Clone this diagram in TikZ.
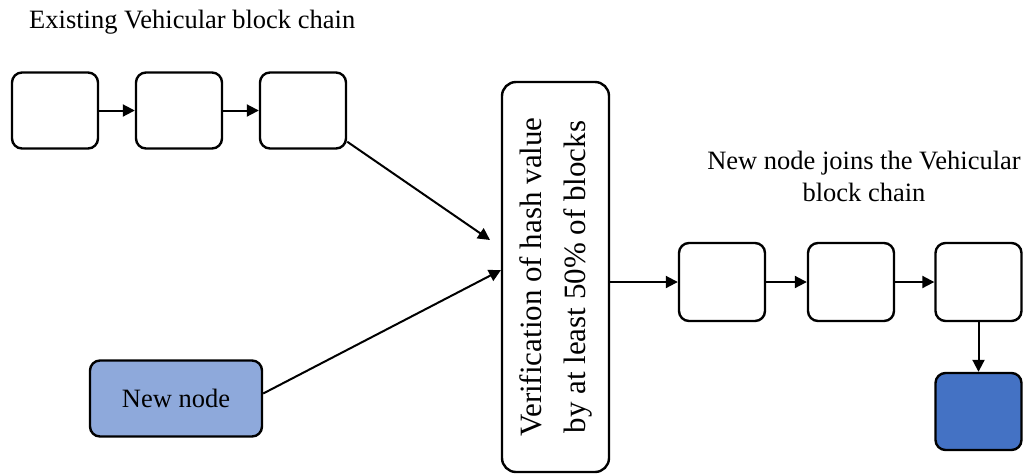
\documentclass[tikz,border=0pt]{standalone}
\usepackage{fontspec}
\setmainfont{Liberation Serif}
\usetikzlibrary{arrows.meta}
\definecolor{lightblue}{HTML}{8EA9DB}
\definecolor{darkblue}{HTML}{4472C4}
\begin{document}
\begin{tikzpicture}[x=1pt,y=-1pt,
  blk/.style={draw, line width=2.4pt, rounded corners=10pt, minimum width=86pt, minimum height=76pt, inner sep=0pt},
  conn/.style={line width=2pt, -{Triangle[length=12pt,width=12pt]}},
  lbl/.style={font=\fontsize{26.5}{32}\selectfont, inner sep=0pt, align=center}]
\useasboundingbox (0,0) rectangle (1024,475);
\node[lbl, anchor=west] (t1) at (29,22) {Existing Vehicular block chain};
\node[blk] (a1) at (55,110.5) {};
\node[blk] (a2) at (179,110.5) {};
\node[blk] (a3) at (303,110.5) {};
\node[blk, fill=lightblue, minimum width=172pt, minimum height=76pt, font=\fontsize{26.5}{32}\selectfont] (nn) at (176,398.5) {New node};
\node[draw, line width=2.4pt, rounded corners=14pt, minimum width=107pt, minimum height=390pt, inner sep=0pt] (v) at (555.5,277) {};
\node[lbl, rotate=90, font=\fontsize{31}{44}\selectfont] (vt) at (555.5,277) {Verification of hash value\\by at least 50\% of blocks};
\node[lbl] (t2) at (864,176) {New node joins the Vehicular\\block chain};
\node[blk, minimum height=78pt] (b1) at (722,282) {};
\node[blk, minimum height=78pt] (b2) at (851,282) {};
\node[blk, minimum height=78pt] (b3) at (978.5,282) {};
\node[blk, fill=darkblue, minimum height=77pt] (b4) at (978.5,411.5) {};
\draw[conn] (a1) -- (a2);
\draw[conn] (a2) -- (a3);
\draw[conn] (a3.south east) ++(0,-8) coordinate (s3) -- (490,240) coordinate (e1);
\draw[conn] (nn.east) ++(0,-5) -- (501,270);
\draw[conn] (v.east |- b1.west) -- (b1.west);
\draw[conn] (b1) -- (b2);
\draw[conn] (b2) -- (b3);
\draw[conn] (b3) -- (b4);
\end{tikzpicture}
\end{document}
